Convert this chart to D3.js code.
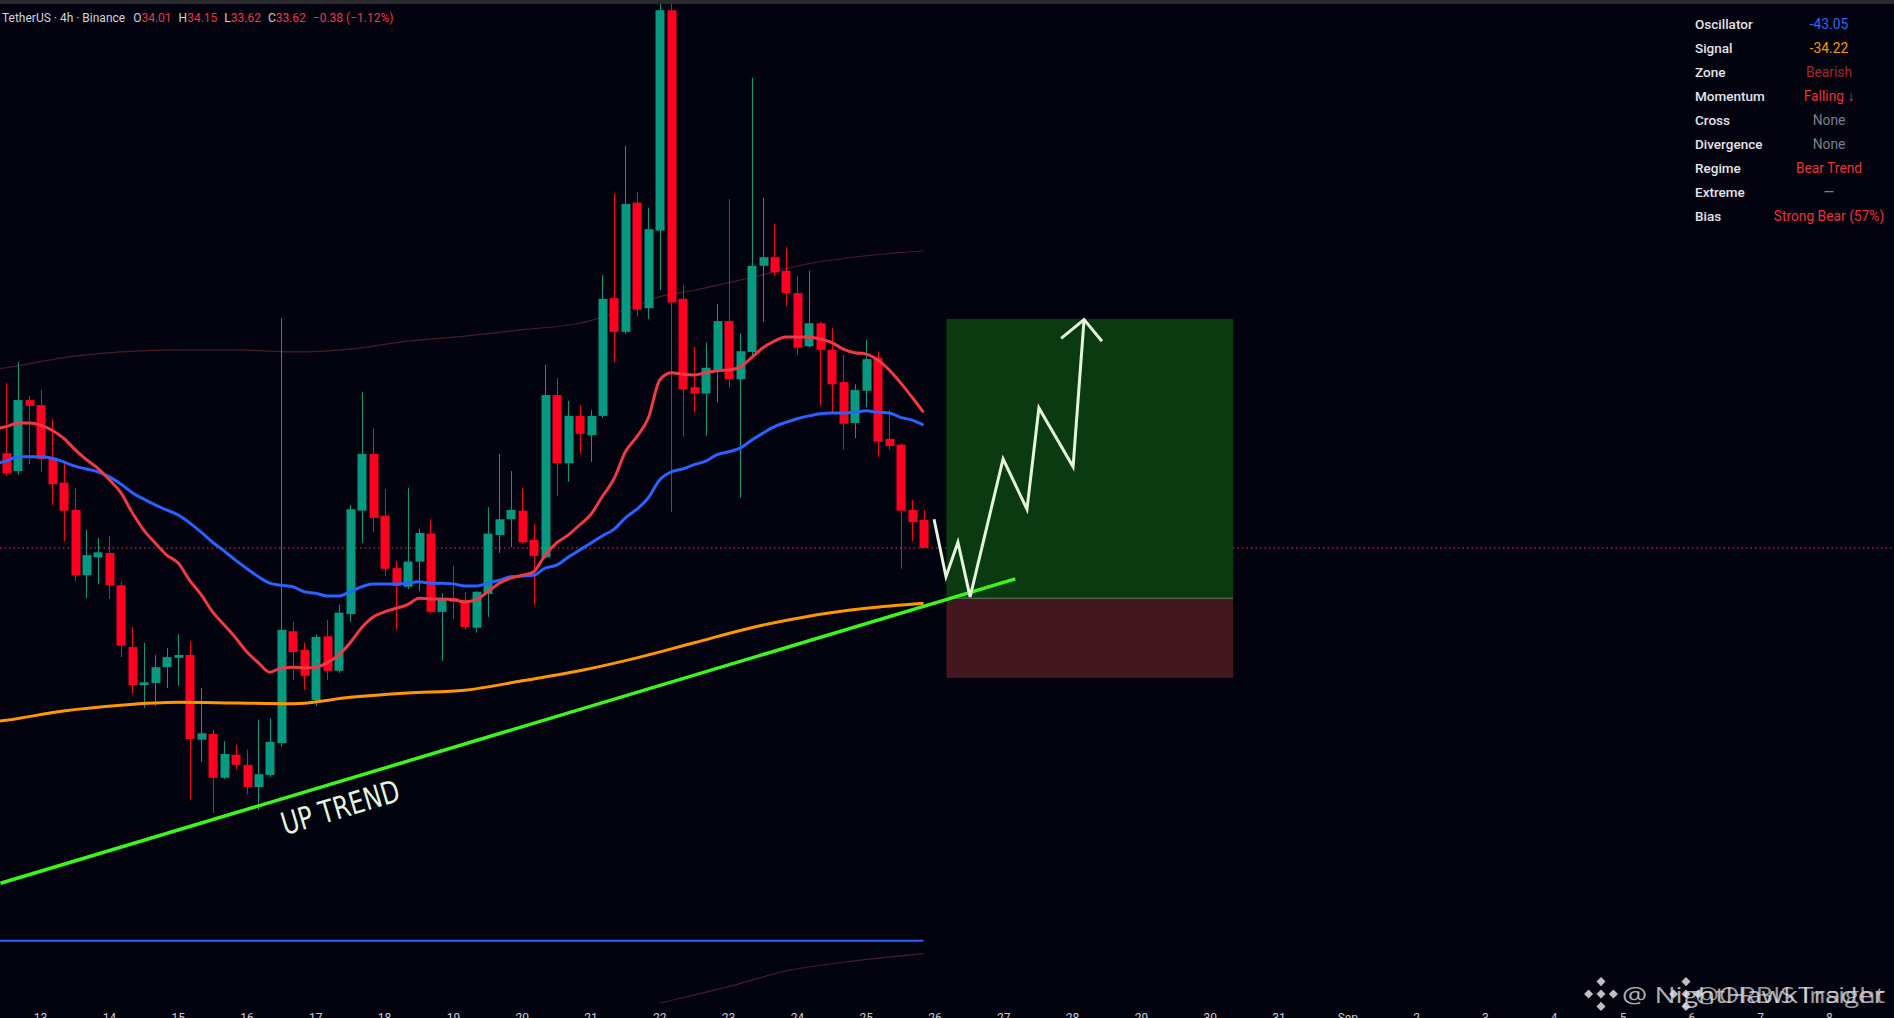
<!DOCTYPE html>
<html>
<head>
<meta charset="utf-8">
<script src="https://cdn.jsdelivr.net/npm/d3@7"></script>
<style>
  html, body { margin: 0; padding: 0; background: #03020f; overflow: hidden; }
</style>
</head>
<body>
<div id="chart"></div>
<script>
// 4h candles, first bar opens 2025-08-12 12:00 UTC
const firstBar = "2025-08-12T12:00:00Z";
const opens = [34.94,34.69,35.68,35.61,34.86,34.53,34.15,33.24,33.49,33.55,
  33.10,32.24,31.71,31.74,31.96,32.09,32.13,30.95,31.03,30.42,
  30.74,30.60,30.29,30.46,30.90,32.46,32.20,31.50,32.39,31.91,
  32.70,34.14,34.93,34.07,33.34,33.08,33.43,33.82,32.73,32.92,
  32.87,32.51,32.98,33.80,34.02,34.14,33.73,33.49,35.75,34.80,
  35.46,35.19,35.46,37.10,36.63,38.43,36.96,38.04,41.11,37.09,
  35.86,35.77,36.10,36.78,35.97,36.35,37.55,37.67,37.48,37.17,
  36.43,36.75,36.38,35.93,35.36,35.81,36.27,35.14,35.06,34.15,34.01];
const highs = [35.92,36.21,35.74,35.82,35.42,34.82,34.46,33.87,33.76,33.79,
  33.15,32.52,32.30,32.13,32.23,32.42,32.32,31.67,31.09,30.93,
  30.88,30.81,31.22,31.25,36.82,32.59,32.30,32.42,32.62,32.83,
  34.22,35.79,35.29,34.44,33.44,34.46,33.89,34.02,32.99,33.37,
  33.01,33.02,34.19,34.93,34.69,34.46,33.95,36.17,35.99,35.67,
  35.60,35.54,37.42,38.55,39.22,38.58,38.36,41.21,41.20,37.28,
  36.42,36.48,37.02,38.48,36.61,40.17,38.50,38.13,37.81,37.41,
  37.48,36.77,36.68,36.31,35.90,36.52,36.36,35.54,35.08,34.29,34.15];
const lows = [34.62,34.64,34.79,34.68,34.22,33.72,33.15,32.92,33.12,32.91,
  32.10,31.60,31.39,31.42,31.67,31.70,30.12,30.64,29.93,30.40,
  30.53,30.19,29.97,30.43,30.85,31.78,31.64,31.42,31.78,31.88,
  32.59,33.69,33.84,33.23,32.48,33.05,33.02,32.71,32.05,32.63,
  32.48,32.44,32.66,33.55,33.63,33.68,32.83,33.47,34.34,34.54,
  34.94,34.82,35.43,36.21,36.60,36.85,36.81,37.21,34.12,35.17,
  35.51,35.18,35.65,35.85,34.32,36.28,36.77,37.41,36.99,36.31,
  36.41,35.60,35.50,34.99,35.15,35.58,34.89,34.99,33.33,33.72,33.62];
const closes = [34.66,35.68,35.60,34.86,34.51,34.14,33.24,33.52,33.56,33.10,
  32.26,31.71,31.75,31.96,32.10,32.13,30.96,31.04,30.42,30.75,
  30.60,30.29,30.47,30.92,32.48,32.17,31.84,32.38,31.91,32.72,
  34.16,34.93,34.04,33.33,33.09,33.43,33.83,32.73,32.92,32.87,
  32.52,33.01,33.82,34.02,34.15,33.70,33.51,35.75,34.80,35.46,
  35.21,35.46,37.09,36.63,38.41,36.94,38.06,41.11,37.04,35.83,
  35.77,36.13,36.78,35.97,36.36,37.55,37.67,37.46,37.17,36.41,
  36.75,36.38,35.90,35.35,35.82,36.25,35.10,35.04,34.14,33.98,33.62];

// moving averages read per bar, first value belongs to the bar before the first candle
const fastMA = [35.28,35.31,35.36,35.36,35.33,35.26,35.15,34.99,34.85,34.73,34.57,
  34.39,34.11,33.87,33.69,33.52,33.41,33.17,32.97,32.73,32.55,
  32.37,32.17,32.02,31.89,31.95,31.96,31.95,31.96,32.02,32.13,
  32.30,32.51,32.66,32.73,32.78,32.83,32.92,32.91,32.91,32.90,
  32.87,32.90,33.01,33.13,33.20,33.24,33.29,33.52,33.69,33.80,
  33.94,34.09,34.34,34.58,34.96,35.17,35.43,35.96,36.06,36.04,
  36.03,36.06,36.09,36.10,36.14,36.27,36.41,36.50,36.56,36.56,
  36.56,36.53,36.48,36.39,36.34,36.32,36.24,36.10,35.92,35.72,35.51];
const slowMA = [34.80,34.83,34.89,34.89,34.89,34.87,34.82,34.76,34.72,34.68,34.61,
  34.51,34.39,34.30,34.22,34.15,34.08,33.97,33.84,33.70,33.58,
  33.45,33.33,33.22,33.13,33.10,33.08,33.01,32.99,32.95,32.95,
  33.01,33.08,33.12,33.12,33.12,33.13,33.15,33.13,33.13,33.12,
  33.09,33.09,33.13,33.17,33.22,33.23,33.24,33.34,33.38,33.49,
  33.59,33.69,33.79,33.88,34.04,34.16,34.32,34.57,34.68,34.72,
  34.78,34.83,34.92,34.96,35.01,35.12,35.22,35.31,35.37,35.42,
  35.46,35.49,35.50,35.50,35.51,35.53,35.51,35.50,35.44,35.40,35.33];
// long MA and bands, read every few bars
const longIdx = [-1,0,5,10,15,20,25,30,35,40,45,50,55,60,65,70,75,80];
const longMA = [31.20,31.22,31.35,31.43,31.47,31.46,31.45,31.54,31.60,31.64,31.77,31.91,32.09,32.30,32.51,32.67,32.78,32.85];
const upperIdx = [-1,0,5,10,15,20,25,30,35,40,45,50,55,57,60,65,70,75,80];
const upperBand = [36.11,36.13,36.27,36.35,36.38,36.38,36.35,36.39,36.50,36.57,36.66,36.75,37.00,37.12,37.21,37.39,37.58,37.69,37.76];
const lowerIdx = [56,57,63,68,73,80];
const lowerBand = [27.24,27.28,27.51,27.73,27.85,27.97];
const baseLevel = 28.15;
const lastPrice = 33.62;

// drawings
const trendLine = [["2025-08-12T10:00:00Z", 28.95], ["2025-08-27T04:00:00Z", 33.19]];
const targetZone = { from: "2025-08-26T04:00:00Z", to: "2025-08-30T08:00:00Z", top: 36.81, entry: 32.92, stop: 31.81 };
const pathPoints = [["2025-08-25T23:40:00Z",34.02],["2025-08-26T03:50:00Z",33.22],["2025-08-26T08:00:00Z",33.70],
  ["2025-08-26T12:15:00Z",32.94],["2025-08-26T23:45:00Z",34.86],["2025-08-27T08:05:00Z",34.16],
  ["2025-08-27T12:15:00Z",35.57],["2025-08-28T00:10:00Z",34.75],["2025-08-28T04:00:00Z",36.80]];
const arrowHead = [["2025-08-27T20:00:00Z",36.54],["2025-08-28T04:00:00Z",36.80],["2025-08-28T10:15:00Z",36.50]];
const trendLabel = { text: "UP TREND", time: "2025-08-17T08:30:00Z", price: 30.01 };

// x axis
const tickLabels = ["13","14","15","16","17","18","19","20","21","22","23","24","25","26","27","28","29","30","31","Sep","2","3","4","5","6","7","8"];

// header and info table
const headerParts = [
  ["TetherUS · 4h · Binance", "#d1d4dc", 0], ["O", "#d1d4dc", 8], ["34.01", "#f23645", 0], ["H", "#d1d4dc", 7], ["34.15", "#f23645", 0],
  ["L", "#d1d4dc", 7], ["33.62", "#f23645", 0], ["C", "#d1d4dc", 7], ["33.62", "#f23645", 0], ["−0.38 (−1.12%)", "#f23645", 7]];
const tableLabels = ["Oscillator","Signal","Zone","Momentum","Cross","Divergence","Regime","Extreme","Bias"];
const tableValues = ["-43.05","-34.22","Bearish","Falling ↓","None","None","Bear Trend","—","Strong Bear (57%)"];
const tableColors = ["#2f6bf5","#ff9800","#a3282c","#e8323c","#7d7f87","#7d7f87","#e8323c","#7d7f87","#e8323c"];

const W = 1894, H = 1018;
const svg = d3.select("#chart").append("svg")
  .attr("width", W).attr("height", H)
  .style("display", "block")
  .style("font-family", "Roboto, 'Noto Sans', sans-serif");

svg.append("rect").attr("width", W).attr("height", H).attr("fill", "#03020f");
svg.append("rect").attr("width", W).attr("height", 4).attr("fill", "#2a2a2e");

const t0 = new Date("2025-08-12T00:00:00Z"), t1 = new Date("2025-09-09T00:00:00Z");
const x = d3.scaleUtc().domain([t0, t1]).range([-28.2, 1898.2]);
const y = d3.scaleLinear().domain([27, 42]).range([1023.3, -53.7]);

const barMs = 4 * 3600 * 1000;
const start = new Date(firstBar).getTime();
const barTime = i => new Date(start + i * barMs);
const bars = opens.map((o, i) => ({
  t: barTime(i), o, h: highs[i], l: lows[i], c: closes[i]
}));
const barW = (x(barTime(1)) - x(barTime(0))) * 0.78;

svg.append("defs").append("clipPath").attr("id", "pane")
  .append("rect").attr("x", 0).attr("y", 4).attr("width", W).attr("height", 999);

const pane = svg.append("g").attr("clip-path", "url(#pane)");

const idxLine = d3.line()
  .x(d => x(barTime(d[0]))).y(d => y(d[1]))
  .curve(d3.curveMonotoneX);
const pairs = (idx, vals) => idx.map((k, i) => [k, vals[i]]);

// bands
pane.append("path").attr("d", idxLine(pairs(upperIdx, upperBand)))
  .attr("fill", "none").attr("stroke", "#4a1c24").attr("stroke-width", 1.2);
pane.append("path").attr("d", idxLine(pairs(lowerIdx, lowerBand)))
  .attr("fill", "none").attr("stroke", "#4a1c24").attr("stroke-width", 1.2);

// base level
pane.append("line")
  .attr("x1", 0).attr("x2", x(bars[bars.length - 1].t))
  .attr("y1", y(baseLevel)).attr("y2", y(baseLevel))
  .attr("stroke", "#2962ff").attr("stroke-width", 2);

// last price line
pane.append("line")
  .attr("x1", 0).attr("x2", W)
  .attr("y1", y(lastPrice)).attr("y2", y(lastPrice))
  .attr("stroke", "#f23645").attr("stroke-width", 1).attr("stroke-dasharray", "1.5,3");

// target / stop boxes
const zx0 = x(new Date(targetZone.from)), zx1 = x(new Date(targetZone.to));
pane.append("rect").attr("x", zx0).attr("width", zx1 - zx0)
  .attr("y", y(targetZone.top)).attr("height", y(targetZone.entry) - y(targetZone.top))
  .attr("fill", "#0b3a10");
pane.append("rect").attr("x", zx0).attr("width", zx1 - zx0)
  .attr("y", y(targetZone.entry)).attr("height", y(targetZone.stop) - y(targetZone.entry))
  .attr("fill", "#43171f");
pane.append("line").attr("x1", zx0).attr("x2", zx1)
  .attr("y1", y(targetZone.entry)).attr("y2", y(targetZone.entry))
  .attr("stroke", "#6b7a6b").attr("stroke-width", 1);

// candles
const g = pane.append("g");
g.selectAll("line.wick").data(bars).join("line")
  .attr("class", "wick")
  .attr("x1", d => Math.round(x(d.t)) + 0.5).attr("x2", d => Math.round(x(d.t)) + 0.5)
  .attr("y1", d => y(d.h)).attr("y2", d => y(d.l))
  .attr("stroke", d => d.c >= d.o ? "#089981" : "#ff0020").attr("stroke-width", 1);
g.selectAll("rect.body").data(bars).join("rect")
  .attr("class", "body")
  .attr("x", d => Math.round(x(d.t) - barW / 2) + 0.5).attr("width", Math.round(barW))
  .attr("y", d => y(Math.max(d.o, d.c)))
  .attr("height", d => Math.max(1, Math.abs(y(d.o) - y(d.c))))
  .attr("fill", d => d.c >= d.o ? "#089981" : "#ff0020");

// moving averages
const maLine = d3.line().x((d, i) => x(barTime(i - 1))).y(d => y(d)).curve(d3.curveMonotoneX);
pane.append("path").attr("d", idxLine(pairs(longIdx, longMA)))
  .attr("fill", "none").attr("stroke", "#ff9800").attr("stroke-width", 3);
pane.append("path").attr("d", maLine(slowMA))
  .attr("fill", "none").attr("stroke", "#2962ff").attr("stroke-width", 3);
pane.append("path").attr("d", maLine(fastMA))
  .attr("fill", "none").attr("stroke", "#ef3a45").attr("stroke-width", 3);

// trend line
const tl = trendLine.map(d => [x(new Date(d[0])), y(d[1])]);
pane.append("line")
  .attr("x1", tl[0][0]).attr("y1", tl[0][1]).attr("x2", tl[1][0]).attr("y2", tl[1][1])
  .attr("stroke", "#3cf51c").attr("stroke-width", 3.5);

const angle = Math.atan2(tl[1][1] - tl[0][1], tl[1][0] - tl[0][0]) * 180 / Math.PI;
const lx = x(new Date(trendLabel.time)), ly = y(trendLabel.price);
pane.append("text")
  .attr("transform", `translate(${lx},${ly}) rotate(${angle})`)
  .attr("text-anchor", "middle").attr("dominant-baseline", "central")
  .attr("fill", "#e3f5dc").attr("font-family", "'DejaVu Sans Condensed', 'Open Sans', sans-serif")
  .attr("font-size", 31)
  .attr("textLength", 122).attr("lengthAdjust", "spacingAndGlyphs")
  .text(trendLabel.text);

// projected path
const pp = d3.line().x(d => x(new Date(d[0]))).y(d => y(d[1]));
pane.append("path").attr("d", pp(pathPoints))
  .attr("fill", "none").attr("stroke", "#e3f5dc").attr("stroke-width", 3)
  .attr("stroke-linejoin", "miter");
pane.append("path").attr("d", pp(arrowHead))
  .attr("fill", "none").attr("stroke", "#e3f5dc").attr("stroke-width", 3);

// x axis labels (cut by the bottom edge, as on screen)
const tickDates = d3.utcDay.range(new Date("2025-08-13T00:00:00Z"), new Date("2025-09-09T00:00:00Z"));
svg.append("g").selectAll("text").data(tickDates).join("text")
  .attr("x", d => x(d)).attr("y", 1022)
  .attr("text-anchor", "middle").attr("font-size", 12).attr("fill", "#c8cad2")
  .text((d, i) => tickLabels[i]);

// header
const header = svg.append("text").attr("x", 2).attr("y", 21.5).attr("font-size", 12);
header.selectAll("tspan").data(headerParts).join("tspan")
  .attr("dx", d => d[2]).attr("fill", d => d[1]).text(d => d[0]);

// info table
const tbl = svg.append("g");
tbl.selectAll("text.lbl").data(tableLabels).join("text")
  .attr("class", "lbl").attr("x", 1695).attr("y", (d, i) => 28.5 + i * 24.1)
  .attr("font-size", 13.5).attr("font-weight", 500).attr("fill", "#e4e4e8").text(d => d);
tbl.selectAll("text.val").data(tableValues).join("text")
  .attr("class", "val").attr("x", 1829).attr("y", (d, i) => 28.5 + i * 24.1)
  .attr("text-anchor", "middle").attr("font-size", 13.8)
  .attr("fill", (d, i) => tableColors[i]).text(d => d);

// watermark
function binanceLogo(gx, cx, cy, s) {
  const pts = [[0, 0, 0.32], [0, -0.62, 0.32], [0, 0.62, 0.32], [-0.62, 0, 0.32], [0.62, 0, 0.32]];
  gx.selectAll(null).data(pts).join("rect")
    .attr("x", d => cx + d[0] * s - d[2] * s / 2).attr("y", d => cy + d[1] * s - d[2] * s / 2)
    .attr("width", d => d[2] * s).attr("height", d => d[2] * s)
    .attr("transform", d => `rotate(45,${cx + d[0] * s},${cy + d[1] * s})`)
    .attr("fill", "rgba(225,225,225,0.85)");
}
const wm = svg.append("g");
binanceLogo(wm, 1601, 994, 20);
binanceLogo(wm, 1686, 994, 20);
wm.append("text").attr("x", 1622).attr("y", 1003).attr("font-size", 22)
  .attr("font-family", "'Open Sans', sans-serif")
  .attr("textLength", 263).attr("lengthAdjust", "spacingAndGlyphs")
  .attr("fill", "rgba(225,225,225,0.8)").text("@ NightHawkTrader");
wm.append("text").attr("x", 1695).attr("y", 1003).attr("font-size", 22)
  .attr("font-family", "'Open Sans', sans-serif")
  .attr("textLength", 190).attr("lengthAdjust", "spacingAndGlyphs")
  .attr("fill", "rgba(225,225,225,0.7)").text("@ORBIS Insight");
</script>
</body>
</html>
